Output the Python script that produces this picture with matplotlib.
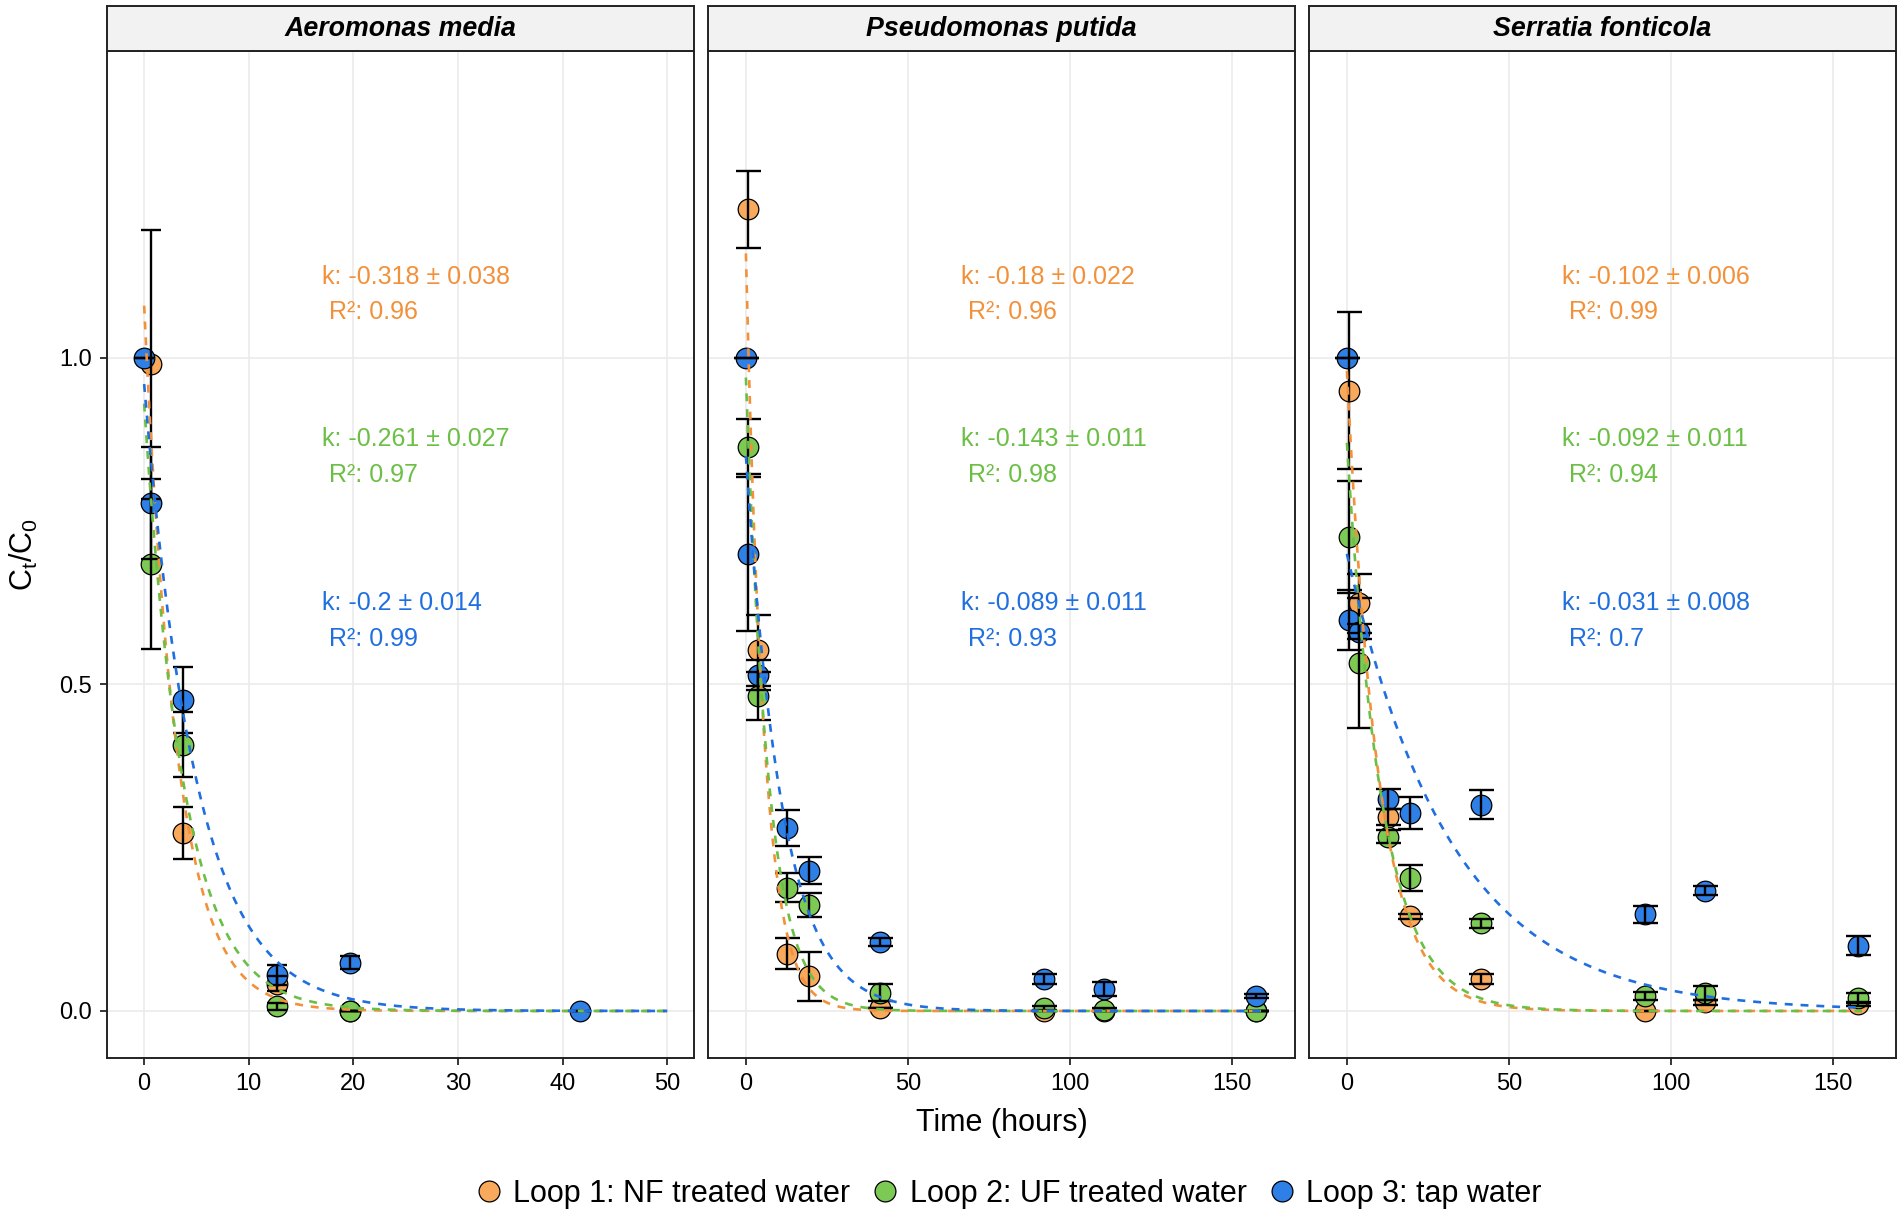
import numpy as np
import matplotlib

matplotlib.use("Agg")
import matplotlib.pyplot as plt  # noqa: E402
from matplotlib.lines import Line2D  # noqa: E402

plt.rcParams["font.family"] = ["Liberation Sans", "DejaVu Sans"]
plt.rcParams["mathtext.fontset"] = "custom"
plt.rcParams["mathtext.rm"] = "Liberation Sans"
plt.rcParams["mathtext.it"] = "Liberation Sans:italic"

# ---------------------------------------------------------------------------
# data
# ---------------------------------------------------------------------------
species = ["Aeromonas media", "Pseudomonas putida", "Serratia fonticola"]
loop_labels = ["Loop 1: NF treated water", "Loop 2: UF treated water", "Loop 3: tap water"]

# Aeromonas media
am_t_nf = [0.7, 3.7, 12.7, 19.7]
am_y_nf = [0.99, 0.273, 0.042, 0.0]
am_e_nf = [0.206, 0.04, 0.012, 0.0]
am_t_uf = [0.7, 3.7, 12.7, 19.7]
am_y_uf = [0.685, 0.408, 0.007, 0.0]
am_e_uf = [0.13, 0.05, 0.005, 0.0]
am_t_tap = [0.0, 0.7, 3.7, 12.7, 19.7, 41.7]
am_y_tap = [1.0, 0.778, 0.476, 0.055, 0.074, 0.0]
am_e_tap = [0.0, 0.086, 0.05, 0.015, 0.01, 0.0]

# Pseudomonas putida
pp_t_nf = [0.6, 3.6, 12.6, 19.5, 41.5, 92.0, 110.5, 157.5]
pp_y_nf = [1.228, 0.552, 0.088, 0.053, 0.004, 0.0, 0.0, 0.0]
pp_e_nf = [0.059, 0.054, 0.024, 0.037, 0.0, 0.0, 0.0, 0.0]
pp_t_uf = [0.6, 3.6, 12.6, 19.5, 41.5, 92.0, 110.5, 157.5]
pp_y_uf = [0.864, 0.482, 0.189, 0.162, 0.028, 0.004, 0.002, 0.0]
pp_e_uf = [0.042, 0.037, 0.022, 0.018, 0.013, 0.003, 0.002, 0.0]
pp_t_tap = [0.0, 0.6, 3.6, 12.6, 19.5, 41.5, 92.0, 110.5, 157.5]
pp_y_tap = [1.0, 0.70, 0.515, 0.280, 0.215, 0.105, 0.049, 0.034, 0.023]
pp_e_tap = [0.0, 0.118, 0.023, 0.028, 0.021, 0.006, 0.008, 0.011, 0.003]

# Serratia fonticola
sf_t_nf = [0.5, 3.6, 12.6, 19.4, 41.5, 92.0, 110.4, 157.7]
sf_y_nf = [0.95, 0.624, 0.297, 0.145, 0.049, 0.0, 0.013, 0.01]
sf_e_nf = [0.12, 0.045, 0.012, 0.004, 0.008, 0.0, 0.004, 0.003]
sf_t_uf = [0.5, 3.6, 12.6, 19.4, 41.5, 92.0, 110.4, 157.7]
sf_y_uf = [0.726, 0.533, 0.267, 0.204, 0.134, 0.023, 0.028, 0.02]
sf_e_uf = [0.086, 0.1, 0.01, 0.02, 0.007, 0.006, 0.011, 0.008]
sf_t_tap = [0.0, 0.5, 3.6, 12.6, 19.4, 41.5, 92.0, 110.4, 157.7]
sf_y_tap = [1.0, 0.599, 0.581, 0.325, 0.303, 0.316, 0.148, 0.184, 0.10]
sf_e_tap = [0.0, 0.046, 0.012, 0.015, 0.025, 0.022, 0.013, 0.007, 0.015]

# first-order decay fits: C/C0 = a * exp(k t)
fit_k = [[-0.318, -0.261, -0.2], [-0.18, -0.143, -0.089], [-0.102, -0.092, -0.031]]
fit_k_err = [["0.038", "0.027", "0.014"], ["0.022", "0.011", "0.011"], ["0.006", "0.011", "0.008"]]
fit_r2 = [["0.96", "0.97", "0.99"], ["0.96", "0.98", "0.93"], ["0.99", "0.94", "0.7"]]
fit_a = [[1.08, 0.93, 0.96], [1.16, 0.97, 0.85], [0.98, 0.87, 0.70]]
fit_tmax = [50.0, 159.0, 159.0]

panel_series = [
    [(am_t_nf, am_y_nf, am_e_nf), (am_t_uf, am_y_uf, am_e_uf), (am_t_tap, am_y_tap, am_e_tap)],
    [(pp_t_nf, pp_y_nf, pp_e_nf), (pp_t_uf, pp_y_uf, pp_e_uf), (pp_t_tap, pp_y_tap, pp_e_tap)],
    [(sf_t_nf, sf_y_nf, sf_e_nf), (sf_t_uf, sf_y_uf, sf_e_uf), (sf_t_tap, sf_y_tap, sf_e_tap)],
]

x_ticks = [[0, 10, 20, 30, 40, 50], [0, 50, 100, 150], [0, 50, 100, 150]]
y_ticks = [0.0, 0.5, 1.0]

# ---------------------------------------------------------------------------
# styling
# ---------------------------------------------------------------------------
fill_colors = ["#F9A95C", "#7CC954", "#2E7FE6"]
line_colors = ["#F2913A", "#6BBF45", "#1F6FE0"]
x_lims = [(-3.55, 52.55), (-11.7, 169.5), (-11.7, 169.5)]
y_lim = (-0.072, 1.47)
text_x = [17.0, 66.5, 66.5]
text_y = [1.097, 0.848, 0.597]
capsizes = [7.5, 9.0, 9.0]

W, H = 1902, 1217
fig = plt.figure(figsize=(W / 100, H / 100), dpi=100)

panel_left = [107, 708, 1309]
panel_w = 587
panel_top, panel_bot, strip_top = 51, 1058, 6

for p in range(3):
    rect = [panel_left[p] / W, 1 - panel_bot / H, panel_w / W, (panel_bot - panel_top) / H]
    ax = fig.add_axes(rect)
    ax.set_xlim(*x_lims[p])
    ax.set_ylim(*y_lim)
    ax.set_xticks(x_ticks[p])
    ax.set_yticks(y_ticks)
    ax.grid(True, color="#EBEBEB", lw=1.2, zorder=0)
    ax.set_axisbelow(True)
    for sp in ax.spines.values():
        sp.set_linewidth(1.4)
        sp.set_color("#222222")
    ax.tick_params(axis="both", labelsize=17, length=5, width=1.1, pad=6, colors="black")
    if p == 0:
        ax.set_yticklabels(["0.0", "0.5", "1.0"])
        ax.set_ylabel(r"$\mathregular{C_t/C_0}$", fontsize=22, labelpad=14)
    else:
        ax.tick_params(axis="y", left=False, labelleft=False)
    if p == 1:
        ax.set_xlabel("Time (hours)", fontsize=22, labelpad=9)

    for s, (t, y, e) in enumerate(panel_series[p]):
        ax.scatter(t, y, s=220, facecolor=fill_colors[s], edgecolor="black",
                   linewidth=0.9, zorder=2 + s * 0.1)
    for s, (t, y, e) in enumerate(panel_series[p]):
        ax.errorbar(t, y, yerr=e, fmt="none", ecolor="black", elinewidth=1.7,
                    capsize=capsizes[p], capthick=1.7, zorder=3)
    for s in range(3):
        tt = np.linspace(0, fit_tmax[p], 400)
        ax.plot(tt, fit_a[p][s] * np.exp(fit_k[p][s] * tt), color=line_colors[s],
                lw=1.9, ls=(0, (3, 3)), zorder=4)
        label = f"k: {fit_k[p][s]} \u00b1 {fit_k_err[p][s]}\n R\u00b2: {fit_r2[p][s]}"
        ax.text(text_x[p], text_y[s], label, color=line_colors[s], fontsize=18,
                ha="left", va="center", linespacing=1.62, zorder=5)

    # facet strip
    sax = fig.add_axes([panel_left[p] / W, 1 - panel_top / H, panel_w / W,
                        (panel_top - strip_top) / H])
    sax.set_facecolor("#F2F2F2")
    sax.set_xticks([])
    sax.set_yticks([])
    for sp in sax.spines.values():
        sp.set_linewidth(1.4)
        sp.set_color("#222222")
    sax.text(0.5, 0.5, species[p], transform=sax.transAxes, ha="center", va="center",
             fontsize=19.3, fontweight="bold", fontstyle="italic")

handles = [
    Line2D([], [], marker="o", ls="none", markersize=15, markerfacecolor=fill_colors[i],
           markeredgecolor="black", markeredgewidth=0.9)
    for i in range(3)
]
fig.legend(handles, loop_labels, loc="center", bbox_to_anchor=(0.529, 0.019), ncol=3,
           frameon=False, fontsize=22, handletextpad=0.2, columnspacing=0.55,
           handlelength=1.2)

fig.savefig("out.png", dpi=100)
